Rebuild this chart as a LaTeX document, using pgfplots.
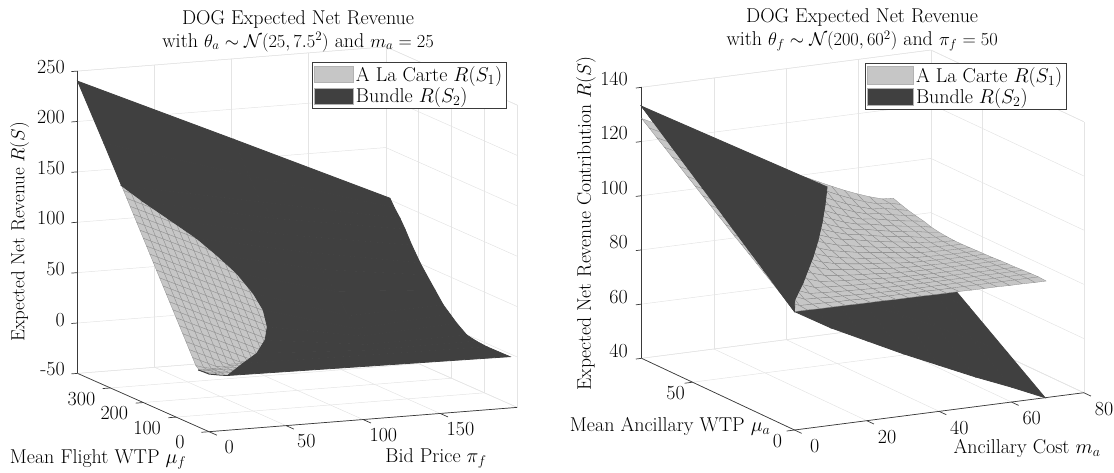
\RequirePackage{fix-cm}
\documentclass[border=0pt]{standalone}
\usepackage{pgfplots}
\pgfplotsset{compat=1.18}
\definecolor{lg}{HTML}{C6C6C6}
\definecolor{dk}{HTML}{404040}
\definecolor{gridc}{HTML}{E4E4E4}
\definecolor{axc}{HTML}{3A3A3A}
\definecolor{meshc}{HTML}{8E8E8E}
\DeclareMathSizes{20.01}{18.4}{13}{10}
\DeclareMathSizes{20}{20}{14}{10}
\DeclareMathSizes{19}{19}{13.5}{10}
\DeclareMathSizes{19.6}{19.6}{13.8}{10}
\newcommand{\fs}{\fontsize{20}{23}\selectfont}
\newcommand{\fsq}{\fontsize{20.01}{23}\selectfont}
\newcommand{\fsz}{\fontsize{19}{22}\selectfont}
\newcommand{\fsr}{\fontsize{19.6}{23}\selectfont}
\pgfplotsset{
 rs/.style={
  clip=false, grid=major, grid style={gridc,line width=0.5pt},
  axis line style={gridc,line width=0.5pt},
  tick style={draw=none}, tick align=outside, major tick length=8pt,
  ticklabel style={font=\fs}, label style={font=\fs}, title style={font=\fs,align=center},
  legend style={font=\fs,draw=axc,line width=0.7pt,fill=white,cells={anchor=west},inner sep=2pt,row sep=1pt},
  anchor=origin},
 darksurf/.style={surf,shader=faceted,faceted color=dk,line width=0.8pt,colormap={dkm}{color=(dk) color=(dk)},forget plot},
 lightsurf/.style={surf,shader=faceted,faceted color=meshc,line width=0.3pt,colormap={lgm}{color=(lg) color=(lg)},forget plot},
 axln/.style={axc,line width=0.7pt,forget plot,no markers},
 lgA/.style={legend image code/.code={\draw[fill=lg,draw=gray!60] (0pt,-8pt) rectangle (39pt,8pt);}},
 lgB/.style={legend image code/.code={\draw[fill=dk,draw=gray!60] (0pt,-8pt) rectangle (39pt,8pt);}},
 lgC/.style={legend image code/.code={\draw[fill=lg,draw=gray!60] (0pt,-8.7pt) rectangle (46pt,8.7pt);}},
 lgD/.style={legend image code/.code={\draw[fill=dk,draw=gray!60] (0pt,-8.7pt) rectangle (46pt,8.7pt);}},
}
\begin{document}
\begin{tikzpicture}
\path[use as bounding box] (0,0) rectangle (1114pt,472pt);
\begin{axis}[rs, at={(209pt,90.7pt)},
 x={(1.541pt,0.1215pt)}, y={(-0.3285pt,0.14575pt)}, z={(0pt,1.00767pt)},
 xmin=0,xmax=200,ymin=0,ymax=400,zmin=-50,zmax=250,
 xtick={0,50,100,150}, ytick={0,100,200,300}, ztick={-50,0,50,100,150,200,250},
 zticklabels={-50,0,50,100,150,200,250},
 xticklabel style={anchor=center,xshift=13pt,yshift=-12pt},
 yticklabel style={anchor=center,xshift=-21pt,yshift=-10pt},
 zticklabel style={xshift=-2pt,yshift=-2pt},
 title={DOG Expected Net Revenue\\{\fsq with $\theta_a\sim\mathcal{N}(25,7.5^2)$ and $m_a=25$}},
 title style={at={(axis cs:57.8,0,334.7)},anchor=center},
 xlabel={Bid Price $\pi_f$}, ylabel={Mean Flight WTP $\mu_f$}, zlabel={Expected Net Revenue $R(S)$},
 xlabel style={at={(axis cs:147.3,0,-93.9)},anchor=center,sloped like x axis=false,rotate=0},
 ylabel style={at={(axis cs:-72,0,-69)},anchor=center,sloped like y axis=false,rotate=0},
 zlabel style={at={(axis cs:-122.9,0,163)},anchor=center,rotate=0,font=\fsz},
 legend style={at={(axis cs:66.8,0,308.8)},anchor=north west},
]
\addplot3[axln] coordinates {(0,0,-50)(200,0,-50)};
\addplot3[axln] coordinates {(0,0,-50)(0,400,-50)};
\addplot3[axln] coordinates {(0,400,-50)(0,400,250)};
\addplot3[axln] coordinates {(0,0,-50)(0,-24,-50)};
\addplot3[axln] coordinates {(50,0,-50)(50,-24,-50)};
\addplot3[axln] coordinates {(100,0,-50)(100,-24,-50)};
\addplot3[axln] coordinates {(150,0,-50)(150,-24,-50)};
\addplot3[axln] coordinates {(0,0,-50)(-5,0,-50)};
\addplot3[axln] coordinates {(0,100,-50)(-5,100,-50)};
\addplot3[axln] coordinates {(0,200,-50)(-5,200,-50)};
\addplot3[axln] coordinates {(0,300,-50)(-5,300,-50)};
\addplot3[axln] coordinates {(0,400,-50)(-4,400,-50)};
\addplot3[axln] coordinates {(0,400,0)(-4,400,0)};
\addplot3[axln] coordinates {(0,400,50)(-4,400,50)};
\addplot3[axln] coordinates {(0,400,100)(-4,400,100)};
\addplot3[axln] coordinates {(0,400,150)(-4,400,150)};
\addplot3[axln] coordinates {(0,400,200)(-4,400,200)};
\addplot3[axln] coordinates {(0,400,250)(-4,400,250)};
\addplot3[lightsurf,mesh/rows=29,mesh/cols=15] coordinates {
(0,0,7.8)(5,0,7)(10,0,5.8)(15,0,5.3)(20,0,5.1)(25,0,5)(30,0,4.9)(35,0,4.8)(40,0,4.7)(45,0,4.6)(50,0,4.5)(55,0,4.4)(60,0,4.3)(65,0,4.2)(70,0,4.1)
(0,10,7.6)(5,10,7)(10,10,5.8)(15,10,5.3)(20,10,5.1)(25,10,5)(30,10,4.9)(35,10,4.8)(40,10,4.7)(45,10,4.6)(50,10,4.5)(55,10,4.4)(60,10,4.3)(65,10,4.2)(70,10,4.1)
(0,20,7.4)(5,20,7)(10,20,5.8)(15,20,5.3)(20,20,5.1)(25,20,5)(30,20,4.9)(35,20,4.8)(40,20,4.7)(45,20,4.6)(50,20,4.5)(55,20,4.4)(60,20,4.3)(65,20,4.2)(70,20,4.1)
(0,30,7)(5,30,6.8)(10,30,5.8)(15,30,5.3)(20,30,5.1)(25,30,5)(30,30,4.9)(35,30,4.8)(40,30,4.7)(45,30,4.6)(50,30,4.5)(55,30,4.4)(60,30,4.3)(65,30,4.2)(70,30,4.1)
(0,40,9.8)(5,40,7.3)(10,40,5.8)(15,40,5.3)(20,40,5.1)(25,40,5)(30,40,4.9)(35,40,4.8)(40,40,4.7)(45,40,4.6)(50,40,4.5)(55,40,4.4)(60,40,4.3)(65,40,4.2)(70,40,4.1)
(0,50,16.3)(5,50,12.8)(10,50,9.3)(15,50,5.8)(20,50,5.1)(25,50,5)(30,50,4.9)(35,50,4.8)(40,50,4.7)(45,50,4.6)(50,50,4.5)(55,50,4.4)(60,50,4.3)(65,50,4.2)(70,50,4.1)
(0,60,22.7)(5,60,19.2)(10,60,15.7)(15,60,12.2)(20,60,8.7)(25,60,5.2)(30,60,4.9)(35,60,4.8)(40,60,4.7)(45,60,4.6)(50,60,4.5)(55,60,4.4)(60,60,4.3)(65,60,4.2)(70,60,4.1)
(0,70,29.2)(5,70,25.7)(10,70,22.2)(15,70,18.7)(20,70,15.2)(25,70,11.7)(30,70,8.2)(35,70,4.8)(40,70,4.7)(45,70,4.6)(50,70,4.5)(55,70,4.4)(60,70,4.3)(65,70,4.2)(70,70,4.1)
(0,80,35.6)(5,80,32.1)(10,80,28.6)(15,80,25.1)(20,80,21.6)(25,80,18.1)(30,80,14.6)(35,80,11.1)(40,80,7.6)(45,80,4.6)(50,80,4.5)(55,80,4.4)(60,80,4.3)(65,80,4.2)(70,80,4.1)
(0,90,42.1)(5,90,38.6)(10,90,35.1)(15,90,31.6)(20,90,28.1)(25,90,24.6)(30,90,21.1)(35,90,17.6)(40,90,14.1)(45,90,10.6)(50,90,7.1)(55,90,4.4)(60,90,4.3)(65,90,4.2)(70,90,4.1)
(0,100,48.5)(5,100,45)(10,100,41.5)(15,100,38)(20,100,34.5)(25,100,31)(30,100,27.5)(35,100,24)(40,100,20.5)(45,100,17)(50,100,13.5)(55,100,10)(60,100,6.5)(65,100,4.2)(70,100,4.1)
(0,110,55)(5,110,51.5)(10,110,48)(15,110,44.5)(20,110,41)(25,110,37.5)(30,110,34)(35,110,30.5)(40,110,27)(45,110,23.5)(50,110,20)(55,110,16.5)(60,110,13)(65,110,9.5)(70,110,6)
(0,120,61.4)(5,120,57.9)(10,120,54.4)(15,120,50.9)(20,120,47.4)(25,120,43.9)(30,120,40.4)(35,120,36.9)(40,120,33.4)(45,120,29.9)(50,120,26.4)(55,120,22.9)(60,120,19.4)(65,120,15.9)(70,120,12.4)
(0,130,67.9)(5,130,64.4)(10,130,60.9)(15,130,57.4)(20,130,53.9)(25,130,50.4)(30,130,46.9)(35,130,43.4)(40,130,39.9)(45,130,36.4)(50,130,32.9)(55,130,29.4)(60,130,25.9)(65,130,22.4)(70,130,18.9)
(0,140,74.3)(5,140,70.8)(10,140,67.3)(15,140,63.8)(20,140,60.3)(25,140,56.8)(30,140,53.3)(35,140,49.8)(40,140,46.3)(45,140,42.8)(50,140,39.3)(55,140,35.8)(60,140,32.3)(65,140,28.8)(70,140,25.3)
(0,150,80.8)(5,150,77.3)(10,150,73.8)(15,150,70.3)(20,150,66.8)(25,150,63.3)(30,150,59.8)(35,150,56.3)(40,150,52.8)(45,150,49.3)(50,150,45.8)(55,150,42.3)(60,150,38.8)(65,150,35.3)(70,150,31.8)
(0,160,87.2)(5,160,83.7)(10,160,80.2)(15,160,76.7)(20,160,73.2)(25,160,69.7)(30,160,66.2)(35,160,62.7)(40,160,59.2)(45,160,55.7)(50,160,52.2)(55,160,48.7)(60,160,45.2)(65,160,41.7)(70,160,38.2)
(0,170,93.7)(5,170,90.2)(10,170,86.7)(15,170,83.2)(20,170,79.7)(25,170,76.2)(30,170,72.7)(35,170,69.2)(40,170,65.7)(45,170,62.2)(50,170,58.7)(55,170,55.2)(60,170,51.7)(65,170,48.2)(70,170,44.7)
(0,180,100.1)(5,180,96.6)(10,180,93.1)(15,180,89.6)(20,180,86.1)(25,180,82.6)(30,180,79.1)(35,180,75.6)(40,180,72.1)(45,180,68.6)(50,180,65.1)(55,180,61.6)(60,180,58.1)(65,180,54.6)(70,180,51.1)
(0,190,106.6)(5,190,103.1)(10,190,99.6)(15,190,96.1)(20,190,92.6)(25,190,89.1)(30,190,85.6)(35,190,82.1)(40,190,78.6)(45,190,75.1)(50,190,71.6)(55,190,68.1)(60,190,64.6)(65,190,61.1)(70,190,57.6)
(0,200,113)(5,200,109.5)(10,200,106)(15,200,102.5)(20,200,99)(25,200,95.5)(30,200,92)(35,200,88.5)(40,200,85)(45,200,81.5)(50,200,78)(55,200,74.5)(60,200,71)(65,200,67.5)(70,200,64)
(0,210,119.5)(5,210,116)(10,210,112.5)(15,210,109)(20,210,105.5)(25,210,102)(30,210,98.5)(35,210,95)(40,210,91.5)(45,210,88)(50,210,84.5)(55,210,81)(60,210,77.5)(65,210,74)(70,210,70.5)
(0,220,125.9)(5,220,122.4)(10,220,118.9)(15,220,115.4)(20,220,111.9)(25,220,108.4)(30,220,104.9)(35,220,101.4)(40,220,97.9)(45,220,94.4)(50,220,90.9)(55,220,87.4)(60,220,83.9)(65,220,80.4)(70,220,76.9)
(0,230,132.4)(5,230,128.9)(10,230,125.4)(15,230,121.9)(20,230,118.4)(25,230,114.9)(30,230,111.4)(35,230,107.9)(40,230,104.4)(45,230,100.9)(50,230,97.4)(55,230,93.9)(60,230,90.4)(65,230,86.9)(70,230,83.4)
(0,240,138.8)(5,240,135.3)(10,240,131.8)(15,240,128.3)(20,240,124.8)(25,240,121.3)(30,240,117.8)(35,240,114.3)(40,240,110.8)(45,240,107.3)(50,240,103.8)(55,240,100.3)(60,240,96.8)(65,240,93.3)(70,240,89.8)
(0,250,145.3)(5,250,141.8)(10,250,138.3)(15,250,134.8)(20,250,131.3)(25,250,127.8)(30,250,124.3)(35,250,120.8)(40,250,117.3)(45,250,113.8)(50,250,110.3)(55,250,106.8)(60,250,103.3)(65,250,99.8)(70,250,96.3)
(0,260,151.7)(5,260,148.2)(10,260,144.7)(15,260,141.2)(20,260,137.7)(25,260,134.2)(30,260,130.7)(35,260,127.2)(40,260,123.7)(45,260,120.2)(50,260,116.7)(55,260,113.2)(60,260,109.7)(65,260,106.2)(70,260,102.7)
(0,270,158.2)(5,270,154.7)(10,270,151.2)(15,270,147.7)(20,270,144.2)(25,270,140.7)(30,270,137.2)(35,270,133.7)(40,270,130.2)(45,270,126.7)(50,270,123.2)(55,270,119.7)(60,270,116.2)(65,270,112.7)(70,270,109.2)
(0,280,164.6)(5,280,161.1)(10,280,157.6)(15,280,154.1)(20,280,150.6)(25,280,147.1)(30,280,143.6)(35,280,140.1)(40,280,136.6)(45,280,133.1)(50,280,129.6)(55,280,126.1)(60,280,122.6)(65,280,119.1)(70,280,115.6)
};
\addplot3[darksurf,mesh/rows=15,mesh/cols=3] coordinates {
(12,0,4.3)(103.65,0,2.6)(195.3,0,0.9)
(37.2,70.2,3.3)(116.9,74,1)(196.7,77.7,-0.6)
(50.8,92.7,8.2)(124,103,1)(197.4,113,-0.2)
(61.4,117.2,16.6)(129.7,131,2)(198,144.3,1.2)
(67.3,138.2,26)(133,158,6)(198.6,177.7,8)
(69.5,160.9,39.1)(134,180,10)(199,200,13.8)
(67.1,180.2,53.2)(133,201,20)(199.4,222.3,19.6)
(60.7,200.6,70.9)(130,225,41)(199.9,250,30.4)
(51.1,216.6,87.9)(126,247,60)(200.4,277.7,41.2)
(41.1,230.1,103.6)(121,265,75)(200.9,300,50)
(26.4,242.3,121.8)(114,285,90)(201.4,327.7,63.5)
(11.6,254.5,140)(107,302,105)(201.8,350,76)
(0,266.3,155.7)(101,316.5,120)(202.1,366.7,84.4)
(0,320,190)(101,352,141)(202.4,385,92)
(0,400,240)(101.4,400,170)(202.7,400,99.4)
};
\addplot3[dk,line width=1pt,forget plot,no markers] coordinates {(0,33,6.5)(0,15,7)(0,0,7.2)(6,0,5.6)(12,0,4.3)};
\addlegendimage{lgA}\addlegendentry{A La Carte $R(S_1)$}
\addlegendimage{lgB}\addlegendentry{Bundle $R(S_2)$}
\end{axis}
\begin{axis}[rs, at={(794.5pt,42pt)},
 x={(3.616pt,0.466pt)}, y={(-2.039pt,0.956pt)}, z={(0pt,2.71pt)},
 xmin=0,xmax=80,ymin=0,ymax=75,zmin=40,zmax=140,
 xtick={0,20,40,60,80}, ytick={0,50}, ztick={40,60,80,100,120,140},
 xticklabel style={anchor=center,xshift=13pt,yshift=-13pt},
 yticklabel style={anchor=center,xshift=-9pt,yshift=-10pt},
 zticklabel style={xshift=-3pt,yshift=2pt},
 title={DOG Expected Net Revenue\\{\fsq with $\theta_f\sim\mathcal{N}(200,60^2)$ and $\pi_f=50$}},
 title style={at={(axis cs:18.7,0,182.2)},anchor=center},
 xlabel={Ancillary Cost $m_a$}, ylabel={Mean Ancillary WTP $\mu_a$}, zlabel={Expected Net Revenue Contribution $R(S)$},
 xlabel style={at={(axis cs:64.3,0,22)},anchor=center,sloped like x axis=false,rotate=0},
 ylabel style={at={(axis cs:-34.4,0,47.4)},anchor=center,sloped like y axis=false,rotate=0},
 zlabel style={at={(axis cs:-57.7,0,126)},anchor=center,rotate=0,font=\fsr},
 legend style={at={(axis cs:19.5,0,172.1)},anchor=north west},
]
\addplot3[axln] coordinates {(0,0,40)(80,0,40)};
\addplot3[axln] coordinates {(0,0,40)(0,75,40)};
\addplot3[axln] coordinates {(0,75,40)(0,75,140)};
\addplot3[axln] coordinates {(0,0,40)(0,-3.5,40)};
\addplot3[axln] coordinates {(20,0,40)(20,-3.5,40)};
\addplot3[axln] coordinates {(40,0,40)(40,-3.5,40)};
\addplot3[axln] coordinates {(60,0,40)(60,-3.5,40)};
\addplot3[axln] coordinates {(80,0,40)(80,-3.5,40)};
\addplot3[axln] coordinates {(0,0,40)(-2.2,0,40)};
\addplot3[axln] coordinates {(0,50,40)(-2.2,50,40)};
\addplot3[axln] coordinates {(0,75,40)(-1.6,75,40)};
\addplot3[axln] coordinates {(0,75,60)(-1.6,75,60)};
\addplot3[axln] coordinates {(0,75,80)(-1.6,75,80)};
\addplot3[axln] coordinates {(0,75,100)(-1.6,75,100)};
\addplot3[axln] coordinates {(0,75,120)(-1.6,75,120)};
\addplot3[axln] coordinates {(0,75,140)(-1.6,75,140)};
\addplot3[darksurf,mesh/rows=5,mesh/cols=8] coordinates {
(0,0,83.7)(10,0,76)(20,0,69.5)(30,0,63)(40,0,57)(50,0,51)(60,0,45.5)(69.3,0,40)
(0,18.75,96)(10,18.75,88)(20,18.75,81.4)(30,18.75,75)(40,18.75,69)(50,18.75,62.8)(60,18.75,56.2)(69.3,18.75,50.25)
(0,37.5,108.4)(10,37.5,100)(20,37.5,92.1)(30,37.5,85.4)(40,37.5,79.3)(50,37.5,72.7)(60,37.5,66.6)(69.3,37.5,60.5)
(0,56.25,120.7)(10,56.25,112)(20,56.25,103.7)(30,56.25,96.8)(40,56.25,90.4)(50,56.25,83.5)(60,56.25,77.2)(69.3,56.25,70.75)
(0,75,133)(10,75,124)(20,75,115.9)(30,75,108.2)(40,75,101.6)(50,75,94.4)(60,75,87.7)(69.3,75,81)
};
\addplot3[lightsurf,mesh/rows=21,mesh/cols=21] coordinates {
(0,0,83.7)(3.5,0,83.7)(7,0,83.6)(10.5,0,83.6)(14,0,83.6)(17.5,0,83.5)(21,0,83.5)(24.5,0,83.5)(28,0,83.4)(31.5,0,83.4)(35,0,83.4)(38.5,0,83.3)(42,0,83.3)(45.5,0,83.3)(49,0,83.2)(52.5,0,83.2)(56,0,83.2)(59.5,0,83.1)(63,0,83.1)(66.5,0,83)(69.6,0,83)
(0,3.75,86.1)(3.5,3.75,84)(7,3.75,83.9)(10.5,3.75,83.8)(14,3.75,83.6)(17.5,3.75,83.6)(21,3.75,83.4)(24.5,3.75,83.4)(28,3.75,83.3)(31.5,3.75,83.3)(35,3.75,83.3)(38.5,3.75,83.3)(42,3.75,83.2)(45.5,3.75,83.2)(49,3.75,83.2)(52.5,3.75,83.2)(56,3.75,83.2)(59.5,3.75,83.2)(63,3.75,83.2)(66.5,3.75,83.2)(69.6,3.75,83.2)
(0,7.5,88.4)(3.5,7.5,86.4)(7,7.5,84.4)(10.5,7.5,84.2)(14,7.5,83.9)(17.5,7.5,83.8)(21,7.5,83.6)(24.5,7.5,83.4)(28,7.5,83.3)(31.5,7.5,83.2)(35,7.5,83.1)(38.5,7.5,83.1)(42,7.5,83.1)(45.5,7.5,83.1)(49,7.5,83.1)(52.5,7.5,83.1)(56,7.5,83.1)(59.5,7.5,83.1)(63,7.5,83.1)(66.5,7.5,83.1)(69.6,7.5,83.1)
(0,11.25,90.6)(3.5,11.25,88.5)(7,11.25,86.4)(10.5,11.25,84.6)(14,11.25,84.3)(17.5,11.25,84)(21,11.25,83.8)(24.5,11.25,83.6)(28,11.25,83.4)(31.5,11.25,83.2)(35,11.25,83.1)(38.5,11.25,83.1)(42,11.25,83)(45.5,11.25,83)(49,11.25,83)(52.5,11.25,83)(56,11.25,83)(59.5,11.25,83)(63,11.25,83)(66.5,11.25,83)(69.6,11.25,83)
(0,15,92.8)(3.5,15,90.6)(7,15,88.6)(10.5,15,86.6)(14,15,84.9)(17.5,15,84.5)(21,15,84.2)(24.5,15,83.9)(28,15,83.7)(31.5,15,83.3)(35,15,83.1)(38.5,15,83)(42,15,82.9)(45.5,15,82.9)(49,15,82.8)(52.5,15,82.8)(56,15,82.8)(59.5,15,82.8)(63,15,82.8)(66.5,15,82.8)(69.6,15,82.8)
(0,18.75,95)(3.5,18.75,92.8)(7,18.75,90.7)(10.5,18.75,88.7)(14,18.75,86.8)(17.5,18.75,85.2)(21,18.75,84.7)(24.5,18.75,84.3)(28,18.75,84)(31.5,18.75,83.7)(35,18.75,83.3)(38.5,18.75,83)(42,18.75,82.9)(45.5,18.75,82.8)(49,18.75,82.7)(52.5,18.75,82.7)(56,18.75,82.7)(59.5,18.75,82.7)(63,18.75,82.7)(66.5,18.75,82.7)(69.6,18.75,82.7)
(0,22.5,97.2)(3.5,22.5,95)(7,22.5,92.8)(10.5,22.5,90.7)(14,22.5,88.7)(17.5,22.5,86.9)(21,22.5,85.5)(24.5,22.5,84.9)(28,22.5,84.4)(31.5,22.5,84)(35,22.5,83.7)(38.5,22.5,83.2)(42,22.5,83)(45.5,22.5,82.8)(49,22.5,82.7)(52.5,22.5,82.6)(56,22.5,82.6)(59.5,22.5,82.6)(63,22.5,82.6)(66.5,22.5,82.6)(69.6,22.5,82.6)
(0,26.25,99.4)(3.5,26.25,97.2)(7,26.25,95)(10.5,26.25,92.8)(14,26.25,90.7)(17.5,26.25,88.8)(21,26.25,87.1)(24.5,26.25,85.7)(28,26.25,85.1)(31.5,26.25,84.6)(35,26.25,84.1)(38.5,26.25,83.8)(42,26.25,83.2)(45.5,26.25,82.9)(49,26.25,82.7)(52.5,26.25,82.6)(56,26.25,82.5)(59.5,26.25,82.4)(63,26.25,82.4)(66.5,26.25,82.4)(69.6,26.25,82.4)
(0,30,101.5)(3.5,30,99.2)(7,30,97)(10.5,30,95)(14,30,92.8)(17.5,30,90.8)(21,30,88.9)(24.5,30,87.2)(28,30,86)(31.5,30,85.3)(35,30,84.7)(38.5,30,84.2)(42,30,83.8)(45.5,30,83.2)(49,30,82.8)(52.5,30,82.6)(56,30,82.5)(59.5,30,82.4)(63,30,82.3)(66.5,30,82.3)(69.6,30,82.3)
(0,33.75,103.8)(3.5,33.75,101.5)(7,33.75,99.2)(10.5,33.75,97.2)(14,33.75,95)(17.5,33.75,92.8)(21,33.75,90.8)(24.5,33.75,89)(28,33.75,87.4)(31.5,33.75,86.3)(35,33.75,85.5)(38.5,33.75,84.8)(42,33.75,84.3)(45.5,33.75,83.8)(49,33.75,83.1)(52.5,33.75,82.7)(56,33.75,82.5)(59.5,33.75,82.3)(63,33.75,82.2)(66.5,33.75,82.2)(69.6,33.75,82.2)
(0,37.5,106)(3.5,37.5,103.7)(7,37.5,101.4)(10.5,37.5,99.1)(14,37.5,97.1)(17.5,37.5,94.9)(21,37.5,92.8)(24.5,37.5,90.8)(28,37.5,89)(31.5,37.5,87.5)(35,37.5,86.6)(38.5,37.5,85.7)(42,37.5,85)(45.5,37.5,84.4)(49,37.5,83.8)(52.5,37.5,83.1)(56,37.5,82.6)(59.5,37.5,82.4)(63,37.5,82.2)(66.5,37.5,82.1)(69.6,37.5,82.1)
(0,41.25,108.3)(3.5,41.25,106)(7,41.25,103.7)(10.5,41.25,101.4)(14,41.25,99.4)(17.5,41.25,97.1)(21,41.25,94.9)(24.5,41.25,92.8)(28,41.25,90.9)(31.5,41.25,89.1)(35,41.25,87.7)(38.5,41.25,86.8)(42,41.25,85.9)(45.5,41.25,85.1)(49,41.25,84.4)(52.5,41.25,83.9)(56,41.25,83)(59.5,41.25,82.6)(63,41.25,82.3)(66.5,41.25,82.1)(69.6,41.25,82)
(0,45,110.5)(3.5,45,108.2)(7,45,105.9)(10.5,45,103.6)(14,45,101.3)(17.5,45,99.3)(21,45,97.1)(24.5,45,94.9)(28,45,92.8)(31.5,45,90.9)(35,45,89.2)(38.5,45,87.8)(42,45,87.1)(45.5,45,86.1)(49,45,85.2)(52.5,45,84.5)(56,45,83.9)(59.5,45,83)(63,45,82.5)(66.5,45,82.2)(69.6,45,82)
(0,48.75,112.8)(3.5,48.75,110.5)(7,48.75,108.2)(10.5,48.75,105.9)(14,48.75,103.6)(17.5,48.75,101.3)(21,48.75,99.3)(24.5,48.75,97)(28,48.75,94.9)(31.5,48.75,92.8)(35,48.75,90.9)(38.5,48.75,89.2)(42,48.75,87.8)(45.5,48.75,87.1)(49,48.75,86.1)(52.5,48.75,85.2)(56,48.75,84.5)(59.5,48.75,83.9)(63,48.75,83)(66.5,48.75,82.5)(69.6,48.75,82.2)
(0,52.5,115)(3.5,52.5,112.7)(7,52.5,110.4)(10.5,52.5,108.1)(14,52.5,105.8)(17.5,52.5,103.5)(21,52.5,101.2)(24.5,52.5,99.2)(28,52.5,97)(31.5,52.5,94.8)(35,52.5,92.7)(38.5,52.5,90.8)(42,52.5,89.1)(45.5,52.5,87.7)(49,52.5,87.1)(52.5,52.5,86.1)(56,52.5,85.2)(59.5,52.5,84.5)(63,52.5,83.9)(66.5,52.5,83)(69.6,52.5,82.5)
(0,56.25,117.3)(3.5,56.25,115)(7,56.25,112.7)(10.5,56.25,110.4)(14,56.25,108.1)(17.5,56.25,105.8)(21,56.25,103.5)(24.5,56.25,101.2)(28,56.25,99.2)(31.5,56.25,97)(35,56.25,94.8)(38.5,56.25,92.7)(42,56.25,90.8)(45.5,56.25,89)(49,56.25,87.7)(52.5,56.25,87.1)(56,56.25,86.1)(59.5,56.25,85.2)(63,56.25,84.5)(66.5,56.25,83.9)(69.6,56.25,83)
(0,60,119.5)(3.5,60,117.2)(7,60,114.9)(10.5,60,112.6)(14,60,110.3)(17.5,60,108)(21,60,105.7)(24.5,60,103.4)(28,60,101.1)(31.5,60,99.1)(35,60,96.9)(38.5,60,94.7)(42,60,92.6)(45.5,60,90.7)(49,60,89)(52.5,60,87.6)(56,60,87.1)(59.5,60,86.1)(63,60,85.2)(66.5,60,84.5)(69.6,60,83.9)
(0,63.75,121.8)(3.5,63.75,119.5)(7,63.75,117.2)(10.5,63.75,114.9)(14,63.75,112.6)(17.5,63.75,110.3)(21,63.75,108)(24.5,63.75,105.7)(28,63.75,103.4)(31.5,63.75,101.1)(35,63.75,99)(38.5,63.75,96.9)(42,63.75,94.7)(45.5,63.75,92.6)(49,63.75,90.7)(52.5,63.75,89)(56,63.75,87.6)(59.5,63.75,87.1)(63,63.75,86.1)(66.5,63.75,85.2)(69.6,63.75,84.5)
(0,67.5,124)(3.5,67.5,121.7)(7,67.5,119.4)(10.5,67.5,117.1)(14,67.5,114.8)(17.5,67.5,112.5)(21,67.5,110.2)(24.5,67.5,107.9)(28,67.5,105.6)(31.5,67.5,103.3)(35,67.5,101)(38.5,67.5,99)(42,67.5,96.8)(45.5,67.5,94.6)(49,67.5,92.5)(52.5,67.5,90.6)(56,67.5,88.9)(59.5,67.5,87.5)(63,67.5,87.1)(66.5,67.5,86.1)(69.6,67.5,85.2)
(0,71.25,126.3)(3.5,71.25,124)(7,71.25,121.7)(10.5,71.25,119.4)(14,71.25,117.1)(17.5,71.25,114.8)(21,71.25,112.5)(24.5,71.25,110.2)(28,71.25,107.9)(31.5,71.25,105.6)(35,71.25,103.3)(38.5,71.25,101)(42,71.25,99)(45.5,71.25,96.8)(49,71.25,94.6)(52.5,71.25,92.5)(56,71.25,90.6)(59.5,71.25,88.9)(63,71.25,87.5)(66.5,71.25,87.1)(69.6,71.25,86.1)
(0,75,128.5)(3.5,75,126.2)(7,75,123.9)(10.5,75,121.6)(14,75,119.3)(17.5,75,117)(21,75,114.7)(24.5,75,112.4)(28,75,110.1)(31.5,75,107.8)(35,75,105.5)(38.5,75,103.2)(42,75,100.9)(45.5,75,98.9)(49,75,96.7)(52.5,75,94.5)(56,75,92.4)(59.5,75,90.5)(63,75,88.8)(66.5,75,87.4)(69.6,75,87.1)
};
\addplot3[darksurf,mesh/rows=9,mesh/cols=2] coordinates {
(0,0,83.7)(0,0,83.7)
(0,7.5,88.6)(4.6,8,84.4)
(0,15,93.6)(15.9,24,83.1)
(0,22.5,98.5)(20.1,29,85.4)
(0,30,103.4)(24.3,34,87.7)
(0,37.5,108.4)(31.9,45,88.7)
(0,45,113.3)(39.2,56,89.9)
(0,60,123.1)(45.1,65,92.4)
(0,75,133)(51.3,75,94.4)
};
\addlegendimage{lgC}\addlegendentry{A La Carte $R(S_1)$}
\addlegendimage{lgD}\addlegendentry{Bundle $R(S_2)$}
\end{axis}
\end{tikzpicture}
\end{document}
